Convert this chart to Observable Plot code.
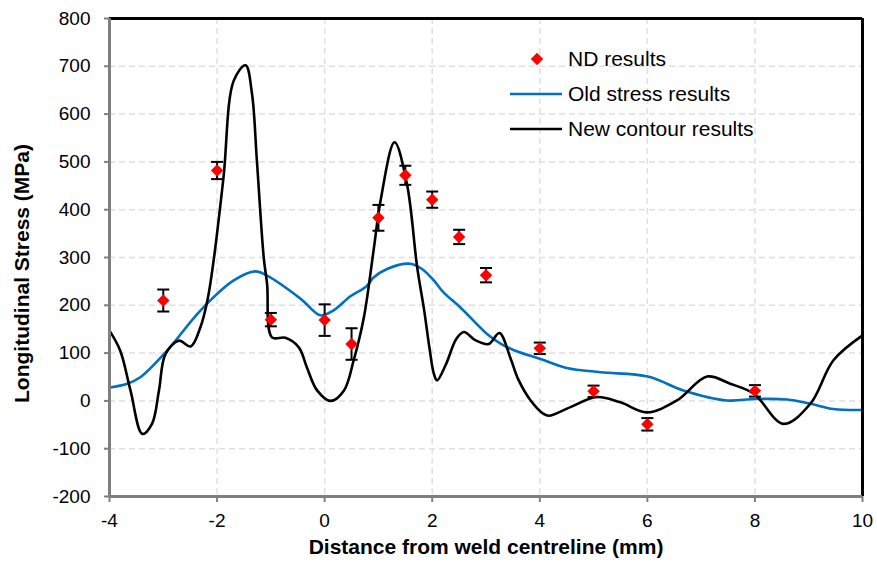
<!DOCTYPE html>
<html><head><meta charset="utf-8">
<script src="https://cdn.jsdelivr.net/npm/d3@7"></script>
<script src="https://cdn.jsdelivr.net/npm/@observablehq/plot@0.6"></script>
<style>
body{margin:0;background:#fff;}
#wrap{position:relative;width:877px;height:567px;font-family:"Liberation Sans",Arial,sans-serif;}
#legend{position:absolute;left:0;top:0;pointer-events:none;}
</style></head><body><div id="wrap"></div>
<script>
// Axis ticks
const xTicks = [-4, -2, 0, 2, 4, 6, 8, 10];
const yTicks = [-200, -100, 0, 100, 200, 300, 400, 500, 600, 700, 800];
const gridXTicks = [-2, 0, 2, 4, 6, 8];
const gridYTicks = [-100, 0, 100, 200, 300, 400, 500, 600, 700];

// ND results (points with error bars)
const ndX = [-3, -2, -1, 0, 0.5, 1, 1.5, 2, 2.5, 3, 4, 5, 6, 8];
const ndY = [210, 482, 170, 169, 119, 383, 472, 421, 343, 263, 110, 20, -49, 21];
const ndErr = [23, 18, 14, 33, 33, 27, 20, 17, 15, 15, 12, 12, 13, 12];

// Old stress results
const oldX = [-4, -3.67, -3.42, -2.93, -2.31, -1.69, -1.29, -1.07, -0.45, -0.08, 0.16, 0.48, 0.78, 0.91, 1.16, 1.59, 1.81, 2.03, 2.21, 2.52, 3.02, 3.27, 3.52, 4.0, 4.5, 5.13, 6.01, 6.67, 7.48, 8.0, 8.6, 9.03, 9.46, 10];
const oldY = [28, 36, 50, 105, 189, 252, 271, 262, 214, 179, 189, 219, 240, 258, 276, 287, 276, 252, 227, 196, 140, 120, 106, 88, 69, 60, 51, 22, 1, 4, 3, -6, -17, -19];

// New contour results
const newX = [-4, -3.8, -3.61, -3.39, -3.21, -3.08, -2.96, -2.71, -2.49, -2.31, -2.18, -2.06, -1.88, -1.69, -1.47, -1.35, -1.26, -1.13, -1.07, -0.98, -0.73, -0.48, -0.33, -0.14, 0.11, 0.36, 0.54, 0.73, 0.91, 1.04, 1.30, 1.53, 1.72, 1.85, 1.95, 2.03, 2.09, 2.25, 2.45, 2.59, 2.8, 3.05, 3.25, 3.45, 3.6, 3.83, 4.07, 4.17, 4.57, 5.06, 5.5, 5.99, 6.55, 7.11, 7.54, 7.98, 8.53, 9.03, 9.46, 10];
const newY = [147, 105, 22, -69, -48, 22, 98, 126, 114, 154, 210, 297, 468, 670, 702, 642, 503, 297, 245, 133, 132, 112, 70, 22, 0, 22, 85, 175, 315, 419, 541, 454, 280, 190, 110, 57, 43, 75, 130, 144, 127, 119, 142, 91, 45, 1, -27, -31, -13, 8, -3, -24, 1, 51, 36, 15, -48, -6, 85, 137];

const seriesNames = ["ND results", "Old stress results", "New contour results"];
const xTitle = "Distance from weld centreline (mm)";
const yTitle = "Longitudinal Stress (MPa)";

const nd = ndX.map((x, i) => ({x, y: ndY[i], lo: ndY[i] - ndErr[i], hi: ndY[i] + ndErr[i]}));
const oldS = oldX.map((x, i) => ({x, y: oldY[i]}));
const newS = newX.map((x, i) => ({x, y: newY[i]}));

const capSymbol = {draw(ctx, size) { const r = Math.sqrt(size / Math.PI); ctx.moveTo(-r, 0); ctx.lineTo(r, 0); }};
const FONT = "Liberation Sans, Arial, sans-serif";
const BLUE = "#0070C0";
const GRID = "#e0e0e0";
const AXIS = "#7f7f7f";

const chart = Plot.plot({
  width: 877, height: 567,
  marginLeft: 109, marginRight: 15, marginTop: 18, marginBottom: 71,
  style: {fontFamily: FONT, background: "white", color: "black"},
  x: {domain: [-4, 10]},
  y: {domain: [-200, 800]},
  marks: [
    Plot.gridX(gridXTicks, {stroke: GRID, strokeOpacity: 1, strokeWidth: 1.5, strokeDasharray: "6,4"}),
    Plot.gridY(gridYTicks, {stroke: GRID, strokeOpacity: 1, strokeWidth: 1.5, strokeDasharray: "6,4"}),
    Plot.line(oldS, {x: "x", y: "y", stroke: BLUE, strokeWidth: 2.6, curve: "catmull-rom"}),
    Plot.line(newS, {x: "x", y: "y", stroke: "black", strokeWidth: 2.6, curve: "catmull-rom"}),
    Plot.ruleX(nd, {x: "x", y1: "lo", y2: "hi", stroke: "black", strokeWidth: 2}),
    Plot.dot(nd, {x: "x", y: "lo", symbol: capSymbol, r: 6, fill: "none", stroke: "black", strokeWidth: 2}),
    Plot.dot(nd, {x: "x", y: "hi", symbol: capSymbol, r: 6, fill: "none", stroke: "black", strokeWidth: 2}),
    Plot.dot(nd, {x: "x", y: "y", symbol: "diamond2", r: 5.6, fill: "#ff0000", stroke: "none"}),
    Plot.ruleY([800], {stroke: "black", strokeWidth: 3}),
    Plot.ruleX([10], {stroke: "black", strokeWidth: 3}),
    Plot.ruleY([-200], {stroke: AXIS, strokeWidth: 3}),
    Plot.ruleX([-4], {stroke: AXIS, strokeWidth: 3}),
    Plot.axisY(yTicks, {tickSize: 5, tickPadding: 14, stroke: AXIS, strokeWidth: 2, fill: "black", fontSize: 19, tickFormat: d => String(d), label: null}),
    Plot.axisX(xTicks, {tickSize: 6, tickPadding: 11, stroke: AXIS, strokeWidth: 2, fill: "black", fontSize: 19, tickFormat: d => String(d), label: null}),
    Plot.text([xTitle], {frameAnchor: "bottom", dy: 57, fontSize: 21, fontWeight: "bold", fill: "black", textAnchor: "middle", text: d => d}),
    Plot.text([yTitle], {frameAnchor: "left", dx: -87, dy: 16, rotate: -90, fontSize: 21, fontWeight: "bold", fill: "black", textAnchor: "middle", text: d => d})
  ]
});
const wrap = document.getElementById("wrap");
wrap.appendChild(chart);

// Legend overlay
const leg = d3.select(wrap).append("svg").attr("id", "legend").attr("width", 877).attr("height", 567)
  .style("font-family", FONT);
const rows = [
  {name: seriesNames[0], kind: "dot", y: 59},
  {name: seriesNames[1], kind: "blue", y: 94},
  {name: seriesNames[2], kind: "black", y: 129}
];
rows.forEach(r => {
  if (r.kind === "dot") {
    leg.append("path").attr("d", d3.symbol(d3.symbolDiamond2, Math.PI * 5.6 * 5.6)())
      .attr("transform", `translate(537,${r.y})`).attr("fill", "#ff0000");
  } else {
    leg.append("line").attr("x1", 510).attr("x2", 562).attr("y1", r.y).attr("y2", r.y)
      .attr("stroke", r.kind === "blue" ? BLUE : "black").attr("stroke-width", 2.6);
  }
  leg.append("text").attr("x", 568).attr("y", r.y).attr("dy", "0.35em")
    .attr("font-size", 21).attr("fill", "black").text(r.name);
});
</script>
</body></html>
